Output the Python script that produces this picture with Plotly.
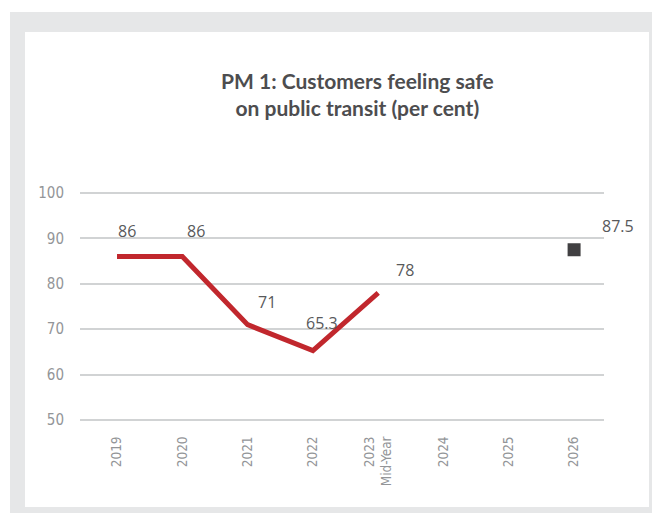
import plotly.graph_objects as go

# ---- data ----
years = ["2019", "2020", "2021", "2022", "2023<br>Mid-Year", "2024", "2025", "2026"]
actual_years = ["2019", "2020", "2021", "2022", "2023<br>Mid-Year"]
actual_values = [86, 86, 71, 65.3, 78]
target_years = ["2026"]
target_values = [87.5]
y_ticks = [50, 60, 70, 80, 90, 100]

# label offsets in pixels (style only)
actual_label_shift = [(10, 26), (14, 26), (19, 23), (9, 28), (27, 23)]
target_label_shift = [(44, 24)]

W, H = 652, 513
L, R, T, B = 80, 48, 188, 88
pw, ph = W - L - R, H - T - B


def px_x(p):
    return (p - L) / pw


def px_y(p):
    return (H - B - p) / ph


fig = go.Figure()
fig.add_trace(go.Scatter(
    x=actual_years, y=actual_values, mode="lines",
    line=dict(color="#c1272d", width=5), hoverinfo="skip", showlegend=False))
fig.add_trace(go.Scatter(
    x=target_years, y=target_values, mode="markers",
    marker=dict(symbol="square", size=13, color="#414042"),
    hoverinfo="skip", showlegend=False))

label_font = dict(family="Open Sans, Noto Sans, sans-serif", size=16, color="#58595b")
for xv, yv, (dx, dy) in zip(actual_years, actual_values, actual_label_shift):
    fig.add_annotation(x=years.index(xv), y=yv, xref="x", yref="y", text=f"{yv:g}",
                       showarrow=False, xshift=dx, yshift=dy, font=label_font,
                       xanchor="center", yanchor="middle")
for xv, yv, (dx, dy) in zip(target_years, target_values, target_label_shift):
    fig.add_annotation(x=years.index(xv), y=yv, xref="x", yref="y", text=f"{yv:g}",
                       showarrow=False, xshift=dx, yshift=dy, font=label_font,
                       xanchor="center", yanchor="middle")

# title
fig.add_annotation(
    x=px_x(357), y=px_y(94), xref="paper", yref="paper", showarrow=False,
    text="<b>PM 1: Customers feeling safe<br>on public transit (per cent)</b>",
    font=dict(family="Lato, Open Sans, sans-serif", size=21, color="#4d4d4f"),
    xanchor="center", yanchor="middle", align="center")

# frame
fig.add_shape(type="rect", xref="paper", yref="paper", layer="below",
              x0=px_x(10), x1=px_x(700), y0=px_y(560), y1=px_y(12),
              fillcolor="#e6e7e8", line=dict(width=0))
fig.add_shape(type="rect", xref="paper", yref="paper", layer="below",
              x0=px_x(25), x1=px_x(649), y0=px_y(507), y1=px_y(32),
              fillcolor="#ffffff", line=dict(width=0))

tick_font_family = "Liberation Sans Narrow, DejaVu Sans Condensed, Roboto, sans-serif"
fig.update_layout(
    width=W, height=H,
    margin=dict(l=L, r=R, t=T, b=B),
    paper_bgcolor="white", plot_bgcolor="rgba(0,0,0,0)",
    xaxis=dict(type="category", categoryorder="array", categoryarray=years,
               tickvals=years, ticktext=years,
               range=[-0.567, 7.458], showgrid=False, zeroline=False, showline=False,
               tickangle=-90, ticks="outside", ticklen=5, tickcolor="rgba(0,0,0,0)",
               tickfont=dict(family=tick_font_family, size=13.5, color="#939598")),
    yaxis=dict(range=[48.9, 101.1], tickvals=y_ticks, showgrid=True,
               gridcolor="#d1d3d4", gridwidth=1.5, zeroline=False, showline=False,
               ticks="outside", ticklen=12, tickcolor="rgba(0,0,0,0)",
               tickfont=dict(family=tick_font_family, size=15, color="#939598")),
)

fig.write_html("out.html")
